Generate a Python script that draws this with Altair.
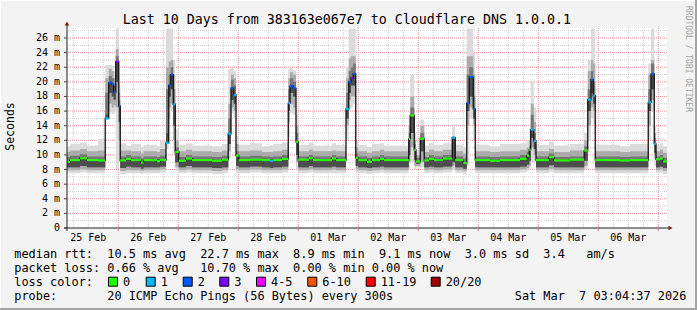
import altair as alt
import pandas as pd

TITLE = "Last 10 Days from 383163e067e7 to Cloudflare DNS 1.0.0.1"
X_START, X_END = 3.5, 243.5   # hours since 2026-02-25 00:00 (local)
Y_MAX = 27.37                 # ms at top of plot

# ---- segments: start hour, median rtt (ms), loss class, smoke bands (ms) ----
seg_start = [
    3.5, 4.7, 8.7, 11.5, 15.9,
    18.8, 20.2, 21.4, 22.2, 23.0, 24.2,
    24.8, 27.1, 29.1, 33.1, 34.1, 39.5, 40.7,
    43.1, 44.2, 45.0, 46.0, 46.8,
    48.2, 51.1, 53.5, 61.5, 65.5,
    68.0, 69.1, 70.2, 71.1,
    72.2, 76.7, 81.5, 84.7, 86.0, 89.5,
    92.0, 92.7, 94.0, 95.1,
    96.0, 100.3, 101.9, 109.5, 111.1,
    115.1, 116.2, 117.1, 118.0, 119.0,
    120.0, 123.5, 125.5, 128.7, 130.3,
    140.2, 140.8, 142.4, 143.1, 144.8,
    146.4, 148.3, 150.3, 153.9,
    157.6,
    158.8, 162.0,
    163.4, 164.4, 166.0,
    166.8, 172.7, 176.7, 184.7, 187.4, 188.4,
    189.0, 190.2,
    191.1, 196.3, 198.3, 204.7, 210.4,
    211.8, 213.1, 214.0,
    214.8, 224.7, 228.7,
    236.0, 237.1, 238.4,
    239.1, 240.7, 241.9,
]
median_ms = [
    9.05, 9.3, 9.55, 9.3, 9.25,
    15.0, 19.9, 19.7, 18.6, 22.75, 16.7,
    9.25, 9.45, 9.3, 8.95, 9.3, 9.15, 9.3,
    11.65, 19.5, 21.0, 16.9, 10.4,
    9.2, 9.5, 9.3, 9.2, 9.35,
    12.9, 19.15, 18.2, 9.9,
    9.3, 9.35, 9.3, 9.2, 9.3, 9.45,
    17.1, 19.4, 19.15, 11.8,
    9.35, 9.55, 9.3, 9.5, 9.3,
    16.3, 20.0, 20.5, 21.1, 9.6,
    9.3, 9.05, 9.3, 9.45, 9.3,
    12.2, 15.4, 10.7, 9.1, 12.2,
    9.25, 9.45, 9.3, 9.5,
    12.35,
    9.3, 8.9,
    17.1, 20.65, 16.3,
    9.3, 9.2, 9.3, 9.45, 9.9, 10.7,
    13.45, 11.9,
    9.3, 9.7, 9.25, 9.35, 10.6,
    17.55, 20.3, 18.1,
    9.3, 9.25, 9.3,
    17.2, 21.1, 11.5,
    9.4, 9.5, 9.1,
]
loss_class = [
    0, 0, 0, 0, 0,
    1, 2, 2, 2, 3, 2,
    0, 0, 0, 0, 0, 0, 0,
    1, 2, 2, 1, 0,
    0, 0, 0, 0, 0,
    1, 2, 1, 0,
    0, 0, 0, 1, 0, 0,
    1, 2, 2, 0,
    0, 0, 0, 0, 0,
    1, 2, 3, 2, 0,
    0, 0, 0, 0, 0,
    0, 0, 0, 0, 0,
    0, 0, 0, 0,
    1,
    0, 0,
    2, 2, 2,
    0, 0, 0, 0, 0, 0,
    1, 1,
    0, 0, 0, 0, 0,
    1, 2, 1,
    0, 0, 0,
    1, 2, 1,
    0, 0, 0,
]
smoke_lo = [
    7.6, 7.5, 7.6, 7.5, 7.5,
    14.8, 15.8, 15.6, 15.8, 8.0, 9.0,
    7.4, 7.5, 7.5, 7.4, 7.5, 7.5, 7.6,
    10.8, 15.0, 16.0, 10.0, 7.8,
    7.5, 7.6, 7.5, 7.4, 7.5,
    9.5, 15.7, 15.0, 7.5,
    7.5, 7.6, 7.5, 7.5, 7.5, 7.6,
    12.5, 15.7, 15.5, 8.0,
    7.5, 7.6, 7.5, 7.5, 7.5,
    12.0, 16.0, 16.5, 17.0, 7.5,
    7.5, 7.4, 7.5, 7.6, 7.5,
    8.0, 9.0, 8.0, 8.3, 8.3,
    7.5, 7.6, 7.5, 7.6,
    8.0,
    7.5, 7.4,
    8.5, 15.0, 12.0,
    7.5, 7.5, 7.5, 7.6, 7.8, 8.0,
    9.0, 9.0,
    7.5, 7.7, 7.5, 7.5, 8.0,
    12.0, 15.0, 14.0,
    7.5, 7.5, 7.5,
    12.0, 16.0, 8.5,
    7.5, 7.6, 7.4,
]
smoke_hi = [
    11.2, 11.5, 11.7, 11.3, 12.2,
    22.3, 22.3, 22.2, 21.5, 27.3, 20.0,
    11.6, 11.3, 11.5, 11.0, 11.4, 11.2, 12.0,
    27.3, 27.3, 27.3, 23.0, 13.5,
    11.4, 11.6, 11.3, 11.2, 11.5,
    21.8, 21.9, 21.5, 12.5,
    11.4, 11.6, 11.2, 11.3, 11.5, 11.7,
    21.8, 21.9, 21.6, 15.5,
    11.4, 11.7, 11.3, 11.6, 11.4,
    22.0, 27.3, 27.3, 27.3, 12.0,
    11.4, 11.1, 11.5, 11.6, 11.3,
    15.3, 21.0, 13.0, 10.5, 14.8,
    11.3, 11.6, 11.4, 11.6,
    13.9,
    11.4, 11.0,
    27.3, 27.3, 24.0,
    11.4, 11.2, 11.5, 11.6, 12.0, 13.5,
    20.1, 16.5,
    11.4, 11.8, 11.3, 11.5, 13.0,
    23.0, 27.3, 27.3,
    11.4, 11.2, 11.5,
    22.5, 27.3, 14.0,
    11.4, 11.6, 11.2,
]
mid_lo = [
    7.9, 7.9, 8.0, 7.9, 7.9,
    15.2, 17.0, 16.5, 16.8, 16.5, 12.0,
    7.8, 7.9, 7.9, 7.8, 7.9, 7.9, 8.0,
    12.0, 16.5, 17.0, 12.0, 8.3,
    7.9, 8.0, 7.9, 7.8, 7.9,
    10.5, 16.5, 16.0, 8.0,
    7.9, 8.0, 7.9, 7.9, 7.9, 8.0,
    14.5, 17.0, 16.5, 9.0,
    7.9, 8.0, 7.9, 8.0, 7.9,
    14.0, 17.5, 18.0, 18.0, 8.0,
    7.9, 7.8, 7.9, 8.0, 7.9,
    9.0, 11.0, 8.5, 8.5, 9.0,
    7.9, 8.0, 7.9, 8.0,
    8.5,
    7.9, 7.8,
    14.0, 16.5, 14.0,
    7.9, 7.9, 7.9, 8.0, 8.2, 8.5,
    11.0, 10.0,
    7.9, 8.1, 7.9, 7.9, 8.5,
    14.0, 16.5, 16.0,
    7.9, 7.9, 7.9,
    14.0, 17.5, 9.5,
    7.9, 8.0, 7.8,
]
mid_hi = [
    10.4, 10.6, 10.8, 10.5, 10.6,
    20.5, 21.8, 21.5, 20.5, 24.5, 18.5,
    10.6, 10.6, 10.5, 10.2, 10.5, 10.4, 10.8,
    22.0, 22.8, 23.0, 21.0, 12.0,
    10.5, 10.7, 10.5, 10.4, 10.6,
    17.0, 21.0, 20.5, 11.5,
    10.5, 10.6, 10.4, 10.4, 10.5, 10.7,
    20.5, 21.3, 21.0, 14.0,
    10.5, 10.7, 10.5, 10.6, 10.5,
    20.5, 23.2, 23.5, 23.5, 11.0,
    10.5, 10.3, 10.5, 10.7, 10.5,
    14.0, 18.0, 12.0, 10.0, 14.0,
    10.4, 10.7, 10.5, 10.7,
    12.6,
    10.5, 10.2,
    23.5, 23.5, 21.0,
    10.5, 10.4, 10.5, 10.7, 11.0, 12.0,
    17.0, 14.5,
    10.5, 10.8, 10.4, 10.6, 12.0,
    21.5, 23.0, 22.5,
    10.5, 10.4, 10.5,
    21.0, 23.0, 13.0,
    10.5, 10.7, 10.3,
]
core_lo = [
    8.3, 8.3, 8.5, 8.3, 8.3,
    15.5, 18.5, 18.0, 17.6, 20.0, 14.5,
    8.2, 8.4, 8.3, 8.1, 8.3, 8.3, 8.4,
    13.0, 18.0, 19.0, 14.0, 9.0,
    8.3, 8.5, 8.3, 8.2, 8.3,
    11.5, 17.5, 17.0, 8.5,
    8.3, 8.4, 8.3, 8.2, 8.3, 8.4,
    16.0, 18.5, 18.0, 10.0,
    8.3, 8.5, 8.3, 8.4, 8.3,
    15.0, 18.5, 19.5, 19.5, 8.5,
    8.3, 8.2, 8.3, 8.4, 8.3,
    10.0, 13.0, 9.3, 8.8, 10.5,
    8.3, 8.4, 8.3, 8.4,
    9.0,
    8.3, 8.1,
    16.0, 18.0, 15.0,
    8.3, 8.3, 8.3, 8.4, 8.7, 9.2,
    12.3, 10.8,
    8.3, 8.6, 8.3, 8.3, 9.2,
    16.0, 18.5, 17.0,
    8.3, 8.3, 8.3,
    16.0, 19.0, 10.3,
    8.3, 8.4, 8.2,
]
core_hi = [
    9.7, 9.9, 10.1, 9.8, 9.8,
    18.5, 20.8, 20.5, 19.5, 23.5, 17.5,
    9.8, 10.0, 9.8, 9.5, 9.8, 9.7, 9.9,
    19.0, 21.0, 22.0, 19.0, 11.0,
    9.7, 10.0, 9.8, 9.7, 9.9,
    15.0, 20.3, 19.5, 10.5,
    9.8, 9.9, 9.8, 9.7, 9.8, 10.0,
    19.0, 20.5, 20.0, 13.0,
    9.8, 10.0, 9.8, 10.0, 9.8,
    18.5, 21.5, 22.0, 22.5, 10.2,
    9.8, 9.6, 9.8, 10.0, 9.8,
    13.0, 16.5, 11.5, 9.6, 13.0,
    9.7, 10.0, 9.8, 10.0,
    11.5,
    9.8, 9.5,
    21.0, 22.0, 18.0,
    9.8, 9.7, 9.8, 10.0, 10.4, 11.2,
    15.5, 13.0,
    9.8, 10.2, 9.7, 9.8, 11.2,
    19.0, 21.5, 20.0,
    9.8, 9.7, 9.8,
    19.0, 22.5, 12.3,
    9.8, 10.0, 9.6,
]

loss_labels = ["0", "1", "2", "3", "4-5", "6-10", "11-19", "20/20"]
loss_colors = ["#26ff00", "#00b8ff", "#0059ff", "#7e00ff", "#ee00ff",
               "#ff5500", "#ff0000", "#a10000"]

day_labels = ["25 Feb", "26 Feb", "27 Feb", "28 Feb", "01 Mar",
              "02 Mar", "03 Mar", "04 Mar", "05 Mar", "06 Mar"]
day_noon_h = [12, 36, 60, 84, 108, 132, 156, 180, 204, 228]
midnight_h = [24, 48, 72, 96, 120, 144, 168, 192, 216, 240]
six_hour_h = [h for h in range(6, 244, 6) if h % 24 != 0 and X_START < h < X_END]
y_ticks = list(range(0, 27, 2))
y_minor = list(range(1, 28, 2))
y_major = list(range(2, 27, 2))

stats_lines = [
    "median rtt:  10.5 ms avg  22.7 ms max  8.9 ms min  9.1 ms now  3.0 ms sd  3.4   am/s",
    "packet loss: 0.66 % avg   10.70 % max  0.00 % min 0.00 % now",
    "loss color:",
    "probe:       20 ICMP Echo Pings (56 Bytes) every 300s                 Sat Mar  7 03:04:37 2026",
]

n = len(seg_start)
for arr in (median_ms, loss_class, smoke_lo, smoke_hi, mid_lo, mid_hi, core_lo, core_hi):
    assert len(arr) == n, len(arr)

# ---- tables ----
seg_end = seg_start[1:] + [X_END]
df = pd.DataFrame({
    "start": seg_start, "end": seg_end, "med": median_ms,
    "loss": [loss_labels[i] for i in loss_class],
    "lo": smoke_lo, "hi": smoke_hi, "mlo": mid_lo, "mhi": mid_hi,
    "clo": core_lo, "chi": core_hi,
})
df_step = pd.concat([df, df.iloc[[-1]].assign(start=X_END)], ignore_index=True)

xs = alt.Scale(domain=[X_START, X_END], nice=False, zero=False)
ys = alt.Scale(domain=[0, Y_MAX], nice=False, zero=False)
MONO = "DejaVu Sans Mono"
NB = lambda s: s.replace(" ", "\u00a0")


def X(f):
    return alt.X(f, type="quantitative", scale=xs, axis=None)


def Y(f):
    return alt.Y(f, type="quantitative", scale=ys, axis=None)


def text_at(txt, x, y, size, align="left", angle=0, color="#000000", baseline="middle"):
    kw = dict(font=MONO, fontSize=size, align=align, baseline=baseline, color=color)
    if angle:
        kw["angle"] = angle
    return alt.Chart(pd.DataFrame({"t": [NB(txt)]})).mark_text(**kw).encode(
        text="t:N", x=alt.value(x), y=alt.value(y))


layers = []

# grid
layers.append(alt.Chart(pd.DataFrame({"v": y_minor})).mark_rule(
    color="#cdcdcd", strokeDash=[1, 1], strokeWidth=1).encode(y=Y("v")))
layers.append(alt.Chart(pd.DataFrame({"v": six_hour_h})).mark_rule(
    color="#cdcdcd", strokeDash=[1, 1], strokeWidth=1).encode(x=X("v")))
layers.append(alt.Chart(pd.DataFrame({"v": y_major})).mark_rule(
    color="#f09090", strokeDash=[1, 1], strokeWidth=1).encode(y=Y("v")))
layers.append(alt.Chart(pd.DataFrame({"v": midnight_h})).mark_rule(
    color="#f09090", strokeDash=[1, 1], strokeWidth=1).encode(x=X("v")))

# smoke: outer, mid, core bands, plus darker lower half of the core (core low -> median)
for lo, hi, col in (("lo", "hi", "#dbdbdb"), ("mlo", "mhi", "#ababab"),
                    ("clo", "chi", "#767676"), ("clo", "med", "#4d4d4d")):
    layers.append(alt.Chart(df_step).mark_area(
        interpolate="step-after", color=col, opacity=1, clip=True).encode(
        x=X("start"), y=Y(lo), y2=alt.Y2(hi)))

# median line (black step) and loss-coloured segments
layers.append(alt.Chart(df_step).mark_line(
    interpolate="step-after", color="#141414", strokeWidth=1.3, clip=True).encode(
    x=X("start"), y=Y("med")))
layers.append(alt.Chart(df).mark_rule(strokeWidth=2.2, clip=True).encode(
    x=X("start"), x2=alt.X2("end"), y=Y("med"),
    color=alt.Color("loss:N", scale=alt.Scale(domain=loss_labels, range=loss_colors), legend=None)))

# axes lines & arrows
AX = "#1e1e1e"
layers.append(alt.Chart(pd.DataFrame({"a": [0]})).mark_rule(color=AX, strokeWidth=1).encode(
    x=alt.value(0), y=alt.value(-5), y2=alt.value(203)))
layers.append(alt.Chart(pd.DataFrame({"a": [0]})).mark_rule(color=AX, strokeWidth=1).encode(
    x=alt.value(-3), x2=alt.value(603), y=alt.value(200)))
layers.append(alt.Chart(pd.DataFrame({"a": [0]})).mark_point(
    shape="triangle-up", filled=True, size=22, color="#8a1c1c", opacity=1).encode(
    x=alt.value(0), y=alt.value(-4.5)))
layers.append(alt.Chart(pd.DataFrame({"a": [0]})).mark_point(
    shape="triangle-right", filled=True, size=22, color="#8a1c1c", opacity=1).encode(
    x=alt.value(603.5), y=alt.value(200)))

# y ticks & labels
layers.append(alt.Chart(pd.DataFrame({"v": y_ticks})).mark_rule(color="#404040").encode(
    x=alt.value(-3), x2=alt.value(0), y=Y("v")))
ylab = pd.DataFrame({"v": y_ticks,
                     "t": [NB("0  ") if v == 0 else NB(f"{v} m") for v in y_ticks]})
layers.append(alt.Chart(ylab).mark_text(
    font=MONO, fontSize=10, align="right", baseline="middle", color="#000000").encode(
    x=alt.value(-7), y=Y("v"), text="t:N"))

# x ticks & labels
layers.append(alt.Chart(pd.DataFrame({"v": midnight_h})).mark_rule(color="#e06a6a").encode(
    x=X("v"), y=alt.value(200.5), y2=alt.value(203)))
xlab = pd.DataFrame({"v": day_noon_h, "t": [NB(s) for s in day_labels]})
layers.append(alt.Chart(xlab).mark_text(
    font=MONO, fontSize=10, align="center", baseline="middle", color="#000000").encode(
    x=X("v"), y=alt.value(210), text="t:N"))

# titles
layers.append(text_at(TITLE, 279.8, -8.5, 13.3, align="center"))
layers.append(text_at("Seconds", -56, 98.5, 11.5, align="center", angle=270))
layers.append(text_at("RRDTOOL / TOBI OETIKER", 620.8, 31, 8, align="center", angle=90, color="#a3a3a3"))

# statistics lines
line_y = [226.3, 240.3, 254.3, 268.0]
for s, yy in zip(stats_lines, line_y):
    layers.append(text_at(s, -52.7, yy, 11.88))

# loss colour legend boxes
box_x = [41, 78.7, 115.7, 152.3, 189, 240.3, 298.7, 363.7]
for i, (bx, lab) in enumerate(zip(box_x, loss_labels)):
    layers.append(alt.Chart(pd.DataFrame({"a": [0]})).mark_rect(
        color=loss_colors[i], stroke="#000000", strokeWidth=1).encode(
        x=alt.value(bx + 0.5), x2=alt.value(bx + 9.5), y=alt.value(249.2), y2=alt.value(258.2)))
    layers.append(text_at(lab, bx + 15, 254.3, 11.88))

# frame (3d border)
for (x1, x2, y1, y2, c) in ((-67, 630, -28, -27, "#ffffff"), (-67, -66, -28, 282, "#ffffff"),
                            (-67, 630, 280, 282, "#a4a4a4"), (628, 630, -28, 282, "#a4a4a4")):
    layers.append(alt.Chart(pd.DataFrame({"a": [0]})).mark_rect(color=c).encode(
        x=alt.value(x1), x2=alt.value(x2), y=alt.value(y1), y2=alt.value(y2)))

chart = alt.layer(*layers).properties(
    width=600, height=200,
    padding={"left": 67, "top": 28, "right": 30, "bottom": 82},
    autosize=alt.AutoSizeParams(type="none"),
).configure(background="#f3f3f3").configure_view(fill="white", strokeWidth=0)

chart.save("out.html", embed_options={"renderer": "svg", "actions": False})
